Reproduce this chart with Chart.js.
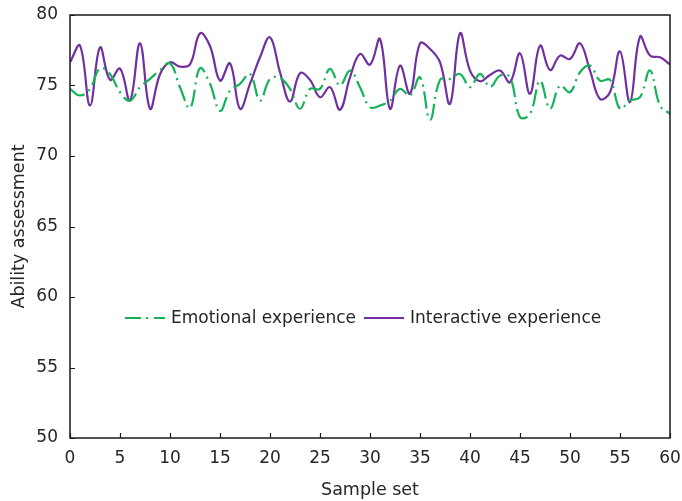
<!DOCTYPE html>
<html>
<head>
<meta charset="utf-8">
<script src="https://cdn.jsdelivr.net/npm/chart.js@4/dist/chart.umd.min.js"></script>
<style>
  html, body { margin: 0; padding: 0; background: #fff; }
  #wrap { width: 682px; height: 501px; position: relative; }
</style>
</head>
<body>
<div id="wrap"><canvas id="c" width="682" height="501"></canvas></div>
<script>
// Sample index 0..60
const samples = Array.from({ length: 61 }, (_, i) => i);

const emotional = [
  74.76, 74.29, 74.76, 76.22, 75.82, 74.52, 73.93, 74.88, 75.47, 76.10,
  76.57, 74.88, 73.40, 76.22, 75.12, 73.20, 74.64, 75.12, 75.82, 73.93,
  75.47, 75.54, 74.76, 73.35, 74.76, 74.76, 76.18, 75.00, 76.06, 74.88,
  73.46, 73.58, 73.93, 74.76, 74.29, 75.58, 72.57, 75.40, 75.47, 75.82,
  74.88, 75.82, 74.90, 75.70, 75.58, 72.75, 72.99, 75.35, 73.35, 75.00,
  74.52, 75.94, 76.41, 75.35, 75.40, 73.35, 73.93, 74.17, 76.06, 73.58,
  72.99
];

const interactive = [
  76.65, 77.83, 73.58, 77.70, 75.40, 76.20, 73.93, 77.99, 73.35, 75.80,
  76.65, 76.34, 76.50, 78.70, 77.80, 75.35, 76.57, 73.35, 75.12, 77.00,
  78.42, 75.94, 73.86, 75.87, 75.40, 74.17, 74.88, 73.28, 75.58, 77.24,
  76.48, 78.30, 73.35, 76.41, 74.41, 77.99, 77.60, 76.65, 73.70, 78.70,
  76.06, 75.30, 75.75, 76.06, 75.23, 77.28, 74.41, 77.83, 76.10, 77.12,
  76.88, 77.99, 76.06, 74.05, 74.52, 77.42, 73.82, 78.46, 77.12, 77.00,
  76.50
];

const seriesNames = ['Emotional experience', 'Interactive experience'];
const xTicks = [0, 5, 10, 15, 20, 25, 30, 35, 40, 45, 50, 55, 60];
const yTicks = [50, 55, 60, 65, 70, 75, 80];

const GREEN = '#14B259';
const PURPLE = '#7030A0';
const TEXT = '#262626';
const FONT = 'DejaVu Sans, Verdana, sans-serif';
const GREEN_DASH = [17, 5, 2, 5];

// Box frame with inward tick marks on the left and bottom axes
const framePlugin = {
  id: 'frame',
  afterDraw(chart) {
    const { ctx, chartArea: a, scales } = chart;
    ctx.save();
    ctx.strokeStyle = '#1a1a1a';
    ctx.lineWidth = 1.5;
    ctx.strokeRect(a.left, a.top, a.right - a.left, a.bottom - a.top);
    ctx.lineWidth = 1.2;
    ctx.beginPath();
    xTicks.forEach(v => {
      const px = Math.round(scales.x.getPixelForValue(v)) + 0.5;
      ctx.moveTo(px, a.bottom);
      ctx.lineTo(px, a.bottom - 5);
    });
    yTicks.forEach(v => {
      const py = Math.round(scales.y.getPixelForValue(v)) + 0.5;
      ctx.moveTo(a.left, py);
      ctx.lineTo(a.left + 5, py);
    });
    ctx.stroke();
    ctx.restore();
  }
};

// Legend drawn inside the plot area
const innerLegend = {
  id: 'innerLegend',
  afterDraw(chart) {
    const { ctx } = chart;
    const y = 318;
    const items = [
      { x: 125, color: GREEN, dash: [16, 5, 2, 6], label: seriesNames[0] },
      { x: 364, color: PURPLE, dash: [], label: seriesNames[1] }
    ];
    ctx.save();
    ctx.font = '17px ' + FONT;
    ctx.textBaseline = 'middle';
    items.forEach(it => {
      ctx.strokeStyle = it.color;
      ctx.lineWidth = 2;
      ctx.setLineDash(it.dash);
      ctx.beginPath();
      ctx.moveTo(it.x, y);
      ctx.lineTo(it.x + 40, y);
      ctx.stroke();
      ctx.setLineDash([]);
      ctx.fillStyle = TEXT;
      ctx.fillText(it.label, it.x + 46, y + 1);
    });
    ctx.restore();
  }
};

const toPoints = arr => arr.map((v, i) => ({ x: samples[i], y: v }));

// Keep tick labels from pushing the plot area inward
const noLabelOverflow = s => {
  s.paddingLeft = 0; s.paddingRight = 0; s.paddingTop = 0; s.paddingBottom = 0;
};

new Chart(document.getElementById('c'), {
  type: 'line',
  data: {
    datasets: [
      {
        label: seriesNames[0],
        data: toPoints(emotional),
        borderColor: GREEN,
        borderWidth: 2.2,
        borderDash: GREEN_DASH,
        pointRadius: 0,
        tension: 0.4,
        fill: false
      },
      {
        label: seriesNames[1],
        data: toPoints(interactive),
        borderColor: PURPLE,
        borderWidth: 2.2,
        pointRadius: 0,
        tension: 0.4,
        fill: false
      }
    ]
  },
  options: {
    responsive: false,
    animation: false,
    layout: { padding: { left: 0, right: 12, top: 15, bottom: 0 } },
    plugins: {
      legend: { display: false },
      tooltip: { enabled: false }
    },
    scales: {
      x: {
        type: 'linear',
        min: 0,
        max: 60,
        afterBuildTicks: s => { s.ticks = xTicks.map(v => ({ value: v })); },
        grid: { display: false, drawTicks: false },
        border: { display: false },
        ticks: { color: TEXT, font: { family: FONT, size: 17 }, padding: 10, maxRotation: 0 },
        title: { display: true, text: 'Sample set', color: TEXT, font: { family: FONT, size: 17.5 }, padding: { top: 4, bottom: 0 } },
        afterFit: s => { s.height = 63; noLabelOverflow(s); }
      },
      y: {
        min: 50,
        max: 80,
        afterBuildTicks: s => { s.ticks = yTicks.map(v => ({ value: v })); },
        grid: { display: false, drawTicks: false },
        border: { display: false },
        ticks: { color: TEXT, font: { family: FONT, size: 17 }, padding: 12 },
        title: { display: true, text: 'Ability assessment', color: TEXT, font: { family: FONT, size: 17.5 }, padding: { top: 9, bottom: 0 } },
        afterFit: s => { s.width = 70; noLabelOverflow(s); }
      }
    }
  },
  plugins: [framePlugin, innerLegend]
});
</script>
</body>
</html>
